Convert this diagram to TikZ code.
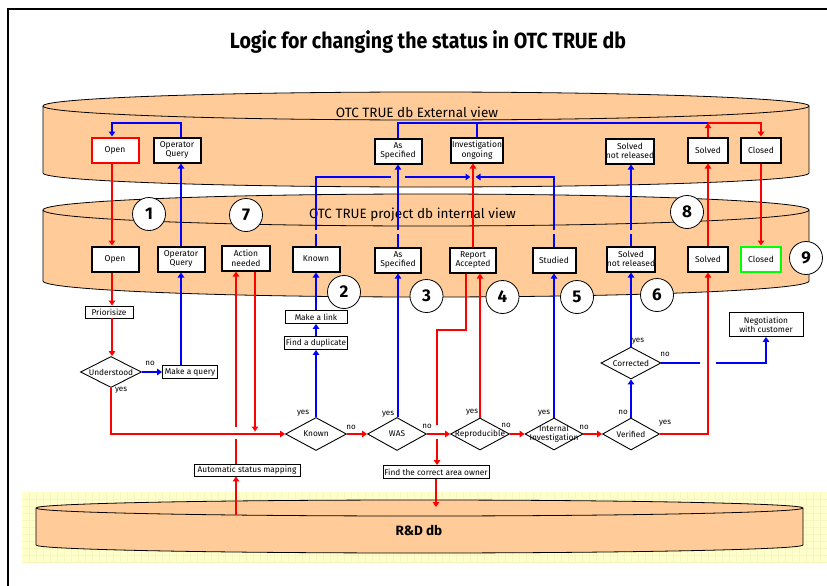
\documentclass[tikz,border=0pt]{standalone}
\usepackage{fontspec}
\setmainfont{Fira Sans}
\newfontfamily\titlefont{Fira Sans}[FakeStretch=0.89]
\usetikzlibrary{arrows.meta,shapes.geometric,calc}

\definecolor{peach}{RGB}{255,204,153}
\definecolor{pastel}{RGB}{255,255,204}
\definecolor{gridy}{RGB}{246,246,190}
\definecolor{lred}{RGB}{255,0,0}
\definecolor{lblue}{RGB}{0,0,255}
\definecolor{lgreen}{RGB}{0,255,0}

\pgfdeclarelayer{bg}
\pgfsetlayers{bg,main}

% database cylinder: left x, right x, top centre y, bottom centre y, half height of the ellipses
\newcommand\dbcyl[5]{%
  \pgfmathsetmacro\cylrx{(#2-#1)/2}%
  \filldraw[fill=peach, draw=black, line width=0.8pt]
    (#1,#3) arc[start angle=180, end angle=0, x radius=\cylrx pt, y radius=#5pt]
    -- (#2,#4) arc[start angle=0, end angle=-180, x radius=\cylrx pt, y radius=#5pt] -- cycle;
  \draw[line width=0.8pt]
    (#1,#3) arc[start angle=180, end angle=360, x radius=\cylrx pt, y radius=#5pt];
}

\begin{document}
\begin{tikzpicture}[x=1pt, y=-1pt,
  sbox/.style={draw, line width=2pt, fill=white, inner sep=0pt, align=center,
    minimum height=25pt, font=\fontsize{8.5}{9.5}\selectfont},
  fbox/.style={draw, line width=0.9pt, fill=white, inner sep=0pt, align=center,
    minimum height=12pt, font=\fontsize{8.3}{9.3}\selectfont},
  dec/.style={draw, diamond, line width=0.9pt, fill=white, inner sep=0pt},
  dtext/.style={font=\fontsize{8.3}{8.8}\selectfont, align=center, inner sep=0pt},
  num/.style={circle, draw, fill=white, line width=0.8pt, minimum size=33pt,
    inner sep=0pt, font=\fontsize{17}{17}\selectfont\bfseries},
  yn/.style={inner sep=0pt, font=\fontsize{8}{8}\selectfont},
  rl/.style={draw=lred, line width=1.8pt},
  bl/.style={draw=lblue, line width=1.8pt},
  arr/.style={-{Triangle[width=6.5pt,length=5pt]}}
]
\useasboundingbox (0,0) rectangle (827,586);

% frame
\draw[line width=2pt] (8,586) -- (8,9) -- (827,9);

% title
\node[font=\fontsize{22}{22}\titlefont\bfseries] (title) at (428,42)
  {Logic for changing the status in OTC TRUE db};

\begin{pgfonlayer}{bg}
  % pale band behind the R&D database
  \fill[pastel] (22,492) rectangle (827,563);
  \foreach \gx in {29,36,...,827} \draw[gridy, line width=0.5pt] (\gx,492) -- (\gx,563);
  \foreach \gy in {499,506,...,563} \draw[gridy, line width=0.5pt] (22,\gy) -- (827,\gy);
  % the three databases
  \dbcyl{43}{809}{106}{173}{14}
  \dbcyl{43}{809}{210}{281}{16}
  \dbcyl{36}{803}{508}{545}{8}
\end{pgfonlayer}

\node[font=\fontsize{13.5}{13.5}\selectfont] (extT) at (417,112) {OTC TRUE db External view};
\node[font=\fontsize{13.5}{13.5}\selectfont] (intT) at (412.5,215) {OTC TRUE project db internal view};
\node[font=\fontsize{13.5}{13.5}\selectfont\bfseries] (rdT) at (419,530) {R\&D db};

% external view
\node[sbox, draw=lred, minimum width=47pt] (openE) at (115,150) {Open};
\node[sbox, minimum width=47pt] (oqE) at (177,150) {Operator\\Query};
\node[sbox, minimum width=47pt] (asE) at (398,151) {As\\Specified};
\node[sbox, minimum width=52pt] (invE) at (477,150) {Investigation\\ongoing};
\node[sbox, minimum width=45pt] (snrE) at (630,151) {Solved\\not released};
\node[sbox, minimum width=40pt] (solvedE) at (708,150) {Solved};
\node[sbox, minimum width=40pt] (closedE) at (761,150) {Closed};

% internal view
\node[sbox, minimum width=47pt] (openI) at (115,259) {Open};
\node[sbox, minimum width=47pt] (oqI) at (181,259) {Operator\\Query};
\node[sbox, minimum width=48pt] (actI) at (246,258) {Action\\needed};
\node[sbox, minimum width=47pt] (knownI) at (316,259) {Known};
\node[sbox, minimum width=46pt] (asI) at (398,260) {As\\Specified};
\node[sbox, minimum width=46pt] (repI) at (473,260) {Report\\Accepted};
\node[sbox, minimum width=43pt] (studI) at (554,260) {Studied};
\node[sbox, minimum width=45pt] (snrI) at (631,259) {Solved\\not released};
\node[sbox, minimum width=40pt] (solvedI) at (708,259) {Solved};
\node[sbox, draw=lgreen, minimum width=40pt] (closedI) at (761,259) {Closed};

% flow of decisions
\node[fbox, minimum width=48pt] (prio) at (109,312) {Priorisize};
\node[dec, minimum width=61pt, minimum height=31pt, label={[dtext]center:Understood}] (und) at (111,372) {};
\node[fbox, minimum width=55pt, minimum height=13pt] (query) at (190,372) {Make a query};
\node[fbox, minimum width=62pt, minimum height=13pt] (link) at (316,317) {Make a link};
\node[fbox, minimum width=63pt, minimum height=13pt] (dup) at (316,343) {Find a duplicate};
\node[dec, minimum width=61pt, minimum height=33pt, label={[dtext]center:Known}] (knownD) at (316,434) {};
\node[dec, minimum width=59pt, minimum height=33pt, label={[dtext]center:WAS}] (wasD) at (397,434) {};
\node[dec, minimum width=59pt, minimum height=32pt, label={[dtext]center:Reproducible}] (repD) at (480,434) {};
\node[dec, minimum width=58pt, minimum height=32pt, label={[dtext]center:{Internal\\Investigation}}] (intD) at (554,434) {};
\node[dec, minimum width=57pt, minimum height=32pt, label={[dtext]center:Verified}] (verD) at (631,434) {};
\node[dec, minimum width=60pt, minimum height=32pt, label={[dtext]center:Corrected}] (corD) at (631,363) {};
\node[fbox, minimum width=74pt, minimum height=24pt] (nego) at (766,324.5) {Negotiation\\with customer};
\node[fbox, minimum width=106pt] (auto) at (247,470) {Automatic status mapping};
\node[fbox, minimum width=106pt, minimum height=13pt] (owner) at (436,472) {Find the correct area owner};

% numbered markers
\node[num] (n1) at (149,214) {1};
\node[num] (n7) at (246,215) {7};
\node[num] (n2) at (344,292) {2};
\node[num] (n3) at (426.5,296) {3};
\node[num] (n4) at (502.5,297) {4};
\node[num] (n5) at (577,297) {5};
\node[num] (n6) at (657,295) {6};
\node[num] (n8) at (687,212) {8};
\node[num] (n9) at (806,258) {9};

% yes / no labels
\node[yn] (y1) at (121,390) {yes};
\node[yn] (o1) at (150,363) {no};
\node[yn] (y2) at (303,413) {yes};
\node[yn] (o2) at (351,427) {no};
\node[yn] (y3) at (388,414) {yes};
\node[yn] (o3) at (427,426) {no};
\node[yn] (y4) at (472,412) {yes};
\node[yn] (o4) at (506,425) {no};
\node[yn] (y5) at (544,413) {yes};
\node[yn] (o5) at (584,427) {no};
\node[yn] (o6) at (623,412) {no};
\node[yn] (y6) at (665,423) {yes};
\node[yn] (y7) at (638,341) {yes};
\node[yn] (o7) at (665,354) {no};

% helper points
\coordinate (colA) at (112,0);
\coordinate (aL) at ($(actI.south)+(-10,0)$);
\coordinate (aR) at ($(actI.south)+(9,0)$);
\coordinate (rdA) at (236,515);
\coordinate (rdB) at (436,507);
\coordinate (rL) at ($(repI.south)+(-7,0)$);
\coordinate (rJ) at (437,330);
\coordinate (hY) at (0,177);
\coordinate (gT) at (0,230);
\coordinate (gB) at (0,234);
\coordinate (mJ) at (repI.north |- hY);
\coordinate (cS) at ($(solvedE.north)+(0,-13.5)$);

% blue connectors
\draw[bl,arr] (und.east) -- (query.west);
\draw[bl,arr] (query.north -| oqI.south) -- (oqI.south);
\draw[bl,arr] (oqI.north) -- (oqI.north |- oqE.south);
\draw[bl,arr] (oqI.north |- oqE.north) -- ++(0,-13.5) -| (openE.north -| colA);
\draw[bl,arr] (knownD.north) -- (dup.south);
\draw[bl,arr] (dup.north) -- (link.south);
\draw[bl,arr] (link.north) -- (knownI.south);
\draw[bl] (knownI.north) -- (knownI.north |- gB);
\draw[bl] (knownI.north |- gT) |- ($(mJ -| asI.north)+(-7,0)$);
\draw[bl,arr] ($(mJ -| asI.north)+(7,0)$) -- ($(mJ)+(-2.5,0)$);
\draw[bl] (studI.north) -- (studI.north |- gB);
\draw[bl,arr] (studI.north |- gT) |- ($(mJ)+(2.5,0)$);
\draw[bl,arr] (asI.south |- wasD.north) -- (asI.south);
\draw[bl] (asI.north) -- (asI.north |- gB);
\draw[bl,arr] (asI.north |- gT) -- (asE.south);
\draw[bl] (asE.north) |- (cS);
\draw[bl] (invE.north) -- (invE.north |- cS);
\draw[bl,arr] (intD.north) -- (studI.south);
\draw[bl,arr] (verD.north) -- (corD.south);
\draw[bl,arr] (corD.north) -- (snrI.south);
\draw[bl] (snrI.north) -- (snrI.north |- gB);
\draw[bl,arr] (snrI.north |- gT) -- (snrI.north |- snrE.south);
\draw[bl] (corD.east) -- ($(corD.east -| solvedI.south)+(-8,0)$);
\draw[bl,arr] ($(corD.east -| solvedI.south)+(8,0)$) -| (nego.south);

% red connectors
\draw[rl,arr] (openE.south -| colA) -- (openI.north -| colA);
\draw[rl,arr] (openI.south -| colA) -- (prio.north -| colA);
\draw[rl,arr] (prio.south -| colA) -- (und.north -| colA);
\draw[rl,arr] (und.south) |- (knownD.west);
\draw[rl,arr] (rdA) -- (auto.south -| rdA);
\draw[rl] (auto.north -| aL) -- ($(aL |- knownD.west)+(0,5)$);
\draw[rl,arr] ($(aL |- knownD.west)+(0,-7)$) -- (aL);
\draw[rl,arr] (aR) -- ($(aR |- knownD.west)+(0,-2.5)$);
\draw[rl,arr] (knownD.east) -- (wasD.west);
\draw[rl,arr] (wasD.east) -- (repD.west);
\draw[rl,arr] (repD.east) -- (intD.west);
\draw[rl,arr] (intD.east) -- (verD.west);
\draw[rl,arr] (repD.north) -- (repD.north |- repI.south);
\draw[rl] (rL) |- (rJ) -- ($(rJ |- repD.west)+(0,-9)$);
\draw[rl,arr] ($(rJ |- repD.west)+(0,5)$) -- (owner.north -| rJ);
\draw[rl,arr] (owner.south) -- (rdB);
\draw[rl,arr] (repI.north) -- (repI.north |- invE.south);
\draw[rl,arr] (verD.east) -| (solvedI.south);
\draw[rl,arr] (solvedI.north) -- (solvedE.south);
\draw[rl,arr] (solvedE.north) -- (cS);
\draw[rl,arr] (cS) -| (closedE.north);
\draw[rl,arr] (closedE.south) -- (closedI.north);
\end{tikzpicture}
\end{document}
